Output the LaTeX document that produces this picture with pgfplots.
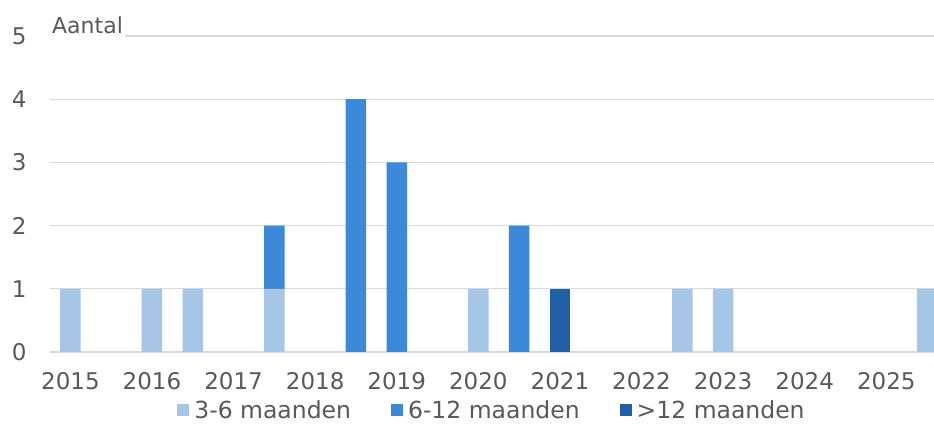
\documentclass[border=0pt]{standalone}
\usepackage{pgfplots}
\pgfplotsset{compat=1.18}
\usepackage{pgfplotstable}
\usepackage{fontspec}
\setmainfont{DejaVu Sans}

\definecolor{kort}{HTML}{A6C6E8}
\definecolor{midden}{HTML}{3C89DA}
\definecolor{lang}{HTML}{225EA4}
\definecolor{txt}{HTML}{595959}
\definecolor{grid}{HTML}{D9D9D9}

% halve jaren: 0 = 2015, 1 = 2015.5, ...
\pgfplotstableread{
x  a b c
0  1 0 0
1  0 0 0
2  1 0 0
3  1 0 0
4  0 0 0
5  1 1 0
6  0 0 0
7  0 4 0
8  0 3 0
9  0 0 0
10 1 0 0
11 0 2 0
12 0 0 1
13 0 0 0
14 0 0 0
15 1 0 0
16 1 0 0
17 0 0 0
18 0 0 0
19 0 0 0
20 0 0 0
21 1 0 0
}\data

\pgfplotsset{sq/.style={draw=none, fill=#1,
  legend image code/.code={\fill[#1] (0pt,-6pt) rectangle (12pt,6pt);}}}

\begin{document}
\begin{tikzpicture}
\path[use as bounding box] (-50pt,-73pt) rectangle (884pt,352pt);
\begin{axis}[
    at={(0,0)}, anchor=south west,
    scale only axis,
    width=884pt, height=316pt,
    clip=false,
    ybar stacked, bar width=20.5pt,
    xmin=-0.5, xmax=21.17,
    ymin=0, ymax=5,
    xtick={0,2,...,20},
    xticklabels={2015,2016,2017,2018,2019,2020,2021,2022,2023,2024,2025},
    ytick={0,1,2,3,4,5},
    major tick length=0pt,
    axis line style={draw=none},
    ymajorgrids,
    major grid style={color=grid, line width=1.3pt},
    /pgf/number format/assume math mode=true,
    tick label style={font=\fontsize{23}{27}\selectfont, text=txt},
    xticklabel style={yshift=-17pt},
    yticklabel style={xshift=-20pt},
    legend columns=3,
    legend style={draw=none, at={(0.5,-0.1835)}, anchor=center,
        font=\fontsize{23.5}{27}\selectfont, text=txt,
        /tikz/every even column/.append style={column sep=38pt},
        /tikz/every odd column/.append style={column sep=3pt}},
]
\addplot[sq=kort] table[x=x, y=a] {\data};
\addplot[sq=midden] table[x=x, y=b] {\data};
\addplot[sq=lang] table[x=x, y=c] {\data};
\legend{3-6 maanden, 6-12 maanden, >12 maanden}
\node[anchor=base west, fill=white, inner xsep=2pt, inner ysep=5pt,
      text=txt, font=\fontsize{22}{26}\selectfont]
      at (rel axis cs:0,1) [yshift=3pt] {Aantal};
\end{axis}
\end{tikzpicture}
\end{document}
